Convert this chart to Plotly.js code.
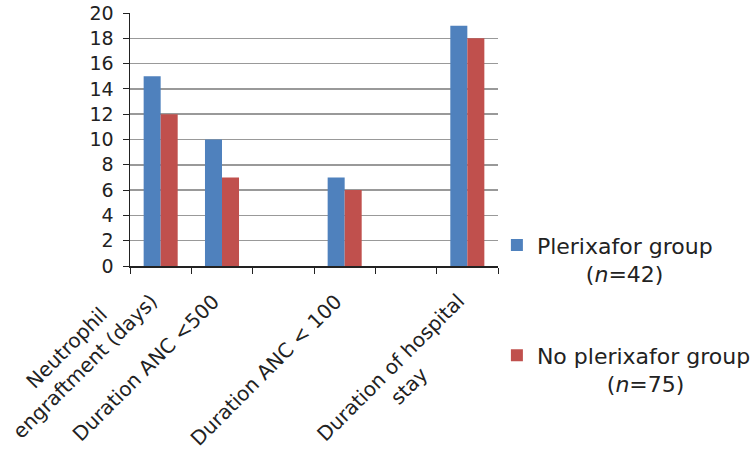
<!DOCTYPE html>
<html><head><meta charset="utf-8">
<script src="https://cdn.plot.ly/plotly-3.0.1.min.js"></script>
<style>html,body{margin:0;padding:0;background:#fff}#c{width:756px;height:461px}</style>
</head><body><div id="c"></div>
<script>
const categories = ["Neutrophil<br>engraftment (days)", "Duration ANC <500", " ", "Duration ANC < 100", "  ", "Duration of hospital<br>stay"];
const plerixafor = [15, 10, null, 7, null, 19];
const noPlerixafor = [12, 7, null, 6, null, 18];
const seriesNames = ["Plerixafor group", "No plerixafor group"];
const seriesN = [42, 75];
const yTicks = [0,2,4,6,8,10,12,14,16,18,20];

const font = "DejaVu Sans, sans-serif";
const xFs = 20, yFs = 19, legFs = 22;
const colors = ['#4F81BD', '#C0504D'];

const cv = document.createElement('canvas').getContext('2d');
function textW(s, fs){ cv.font = fs + 'px "DejaVu Sans"'; return cv.measureText(s).width; }
function legendLabel(name, n){
  const w1 = textW(name, legFs), w2 = textW('(n=' + n + ')', legFs), sp = textW('\u00a0', legFs);
  const pad = Math.max(0, Math.round((w1 - w2) / 2 / sp));
  return name + '<br>' + '\u00a0'.repeat(pad) + '(<i>n</i>=' + n + ')';
}

const traces = [plerixafor, noPlerixafor].map((vals, i) => ({
  type:'bar', x:categories, y:vals, name:legendLabel(seriesNames[i], seriesN[i]),
  marker:{color:colors[i]}, legendgroup:'g' + i
}));

// x labels as rotated, centre-aligned annotations (Excel style)
const L = xFs * 1.3, c45 = Math.SQRT1_2;
const annotations = categories.filter(cat => cat.trim()).map(cat => {
  const lines = cat.split('<br>');
  const widths = lines.map(s => textW(s, xFs));
  const k = widths.indexOf(Math.max(...widths));
  const H = lines.length * L;
  return {
    xref:'x', yref:'paper', x:cat, y:0, text:cat, showarrow:false,
    textangle:-45, xanchor:'right', yanchor:'top', align:'center', borderpad:0,
    xshift: 3 + c45 * (H - (k + 1) * L),
    yshift: -22 + c45 * k * L,
    font:{family:font, size:xFs, color:'#222'}
  };
});

const layout = {
  width:756, height:461,
  margin:{l:130, r:258, t:13, b:195, autoexpand:false},
  paper_bgcolor:'#fff', plot_bgcolor:'#fff',
  barmode:'group', bargap:0.445, bargroupgap:0,
  font:{family:font, color:'#222', size:yFs},
  xaxis:{type:'category', categoryorder:'array', categoryarray:categories,
    range:[-0.5, categories.length - 0.5], autorange:false,
    tickson:'boundaries', ticks:'outside', ticklen:6, tickcolor:'#222',
    showline:true, linecolor:'#222', linewidth:1.5, showticklabels:false, showgrid:false},
  yaxis:{range:[0,20], tickvals:yTicks, ticktext:yTicks.map(String),
    ticks:'outside', ticklen:6, tickcolor:'#222', ticklabelstandoff:5,
    showline:true, linecolor:'#222', linewidth:1.5,
    showgrid:true, gridcolor:'#999', gridwidth:1.5, zeroline:false,
    tickfont:{size:yFs, family:font, color:'#222'}},
  annotations: annotations,
  showlegend:true,
  legend:{x:0.997, xanchor:'left', y:0.165, yanchor:'top', tracegroupgap:50, valign:'top',
    font:{size:legFs, family:font, color:'#222'}, bgcolor:'rgba(0,0,0,0)'}
};
Plotly.newPlot('c', traces, layout, {displayModeBar:false, staticPlot:true});
</script>
</body></html>
